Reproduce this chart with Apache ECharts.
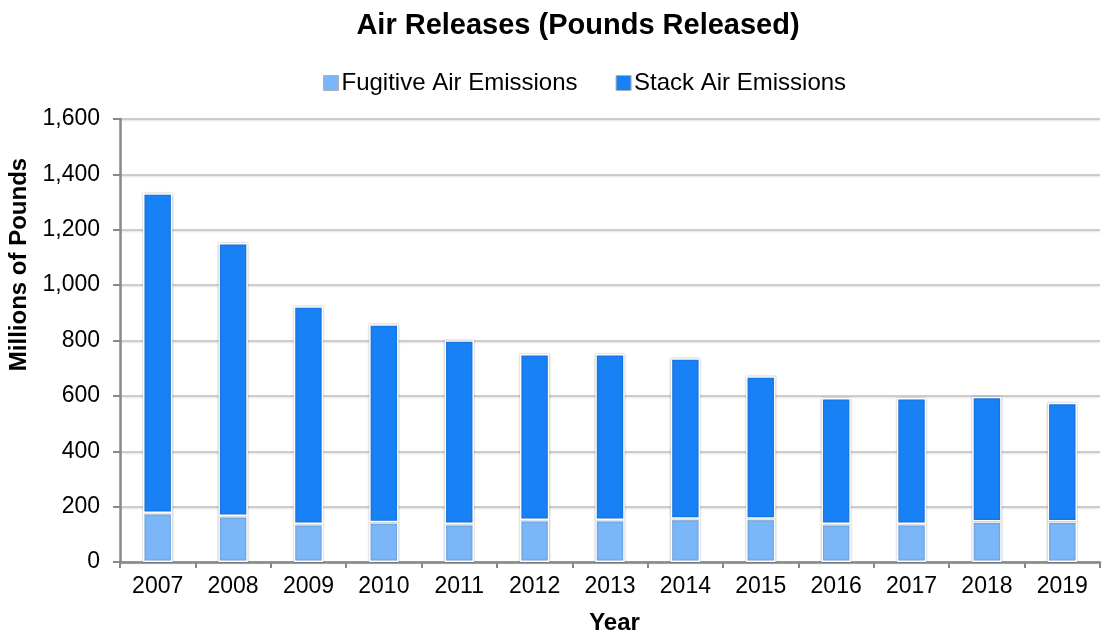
<!DOCTYPE html>
<html>
<head>
<meta charset="utf-8">
<title>Air Releases</title>
<script src="https://cdn.jsdelivr.net/npm/echarts@6/dist/echarts.min.js"></script>
<style>
  html, body { margin: 0; padding: 0; background: #fff; }
  #chart { width: 1105px; height: 634px; }
</style>
</head>
<body>
<div id="chart"></div>
<script>
// years on the x axis
const years = ['2007', '2008', '2009', '2010', '2011', '2012', '2013', '2014', '2015', '2016', '2017', '2018', '2019']
// millions of pounds
const fugitive = [177, 166, 137, 144, 137, 152, 152, 156, 156, 137, 137, 146, 146]
const stack = [1155, 986, 787, 715, 664, 599, 599, 580, 515, 455, 455, 451, 429]
const yTicks = [0, 200, 400, 600, 800, 1000, 1200, 1400, 1600]

const chart = echarts.init(document.getElementById('chart'))

const barStyle = (color) => ({
  color: color,
  borderColor: '#ffffff',
  borderWidth: 1.5,
  shadowColor: 'rgba(0, 0, 0, 0.35)',
  shadowBlur: 2
})

const option = {
  animation: false,
  textStyle: { fontFamily: 'Liberation Sans, Arial, sans-serif' },
  title: {
    text: 'Air Releases (Pounds Released)',
    left: 573,
    top: 6,
    textAlign: 'center',
    textStyle: { fontSize: 29, fontWeight: 'bold', color: '#000' }
  },
  legend: {
    top: 66,
    left: 318,
    itemWidth: 15,
    itemHeight: 15,
    itemGap: 38,
    icon: 'rect',
    itemStyle: { borderColor: '#b0b0b0', borderWidth: 1 },
    textStyle: { fontSize: 24, color: '#000', padding: [0, 0, 0, -2] },
    data: ['Fugitive Air Emissions', 'Stack Air Emissions']
  },
  grid: { left: 120, right: 5, top: 119, bottom: 72, outerBoundsMode: 'none', containLabel: false },
  xAxis: {
    type: 'category',
    data: years,
    name: 'Year',
    nameLocation: 'middle',
    nameGap: 49,
    nameTextStyle: { fontSize: 24, fontWeight: 'bold', color: '#000', padding: [0, 0, 0, 9] },
    axisLine: { lineStyle: { color: '#888', width: 2.5 } },
    axisTick: { show: true, length: 6, lineStyle: { color: '#888', width: 2 } },
    axisLabel: { fontSize: 23, color: '#000', margin: 13 }
  },
  yAxis: {
    type: 'value',
    min: 0,
    max: 1600,
    interval: 200,
    name: 'Millions of Pounds',
    nameLocation: 'middle',
    nameGap: 84,
    nameTextStyle: { fontSize: 24, fontWeight: 'bold', color: '#000', padding: [0, 0, 0, 152] },
    axisLine: { show: true, lineStyle: { color: '#888', width: 2.5 } },
    axisTick: { show: true, length: 7, lineStyle: { color: '#888', width: 2 } },
    axisLabel: {
      fontSize: 23,
      color: '#000',
      margin: 20,
      formatter: (v) => yTicks.includes(v) ? v.toLocaleString('en-US') : ''
    },
    splitLine: {
      lineStyle: { color: '#bfbfbf', width: 1.5, shadowColor: 'rgba(0,0,0,0.15)', shadowBlur: 2, shadowOffsetY: 1 }
    }
  },
  series: [
    {
      name: 'Fugitive Air Emissions',
      type: 'bar',
      stack: 'air',
      barWidth: '39%',
      data: fugitive,
      itemStyle: barStyle('#7ab6f8')
    },
    {
      name: 'Stack Air Emissions',
      type: 'bar',
      stack: 'air',
      barWidth: '39%',
      data: stack,
      itemStyle: barStyle('#1881f5')
    }
  ]
}

chart.setOption(option)
</script>
</body>
</html>
